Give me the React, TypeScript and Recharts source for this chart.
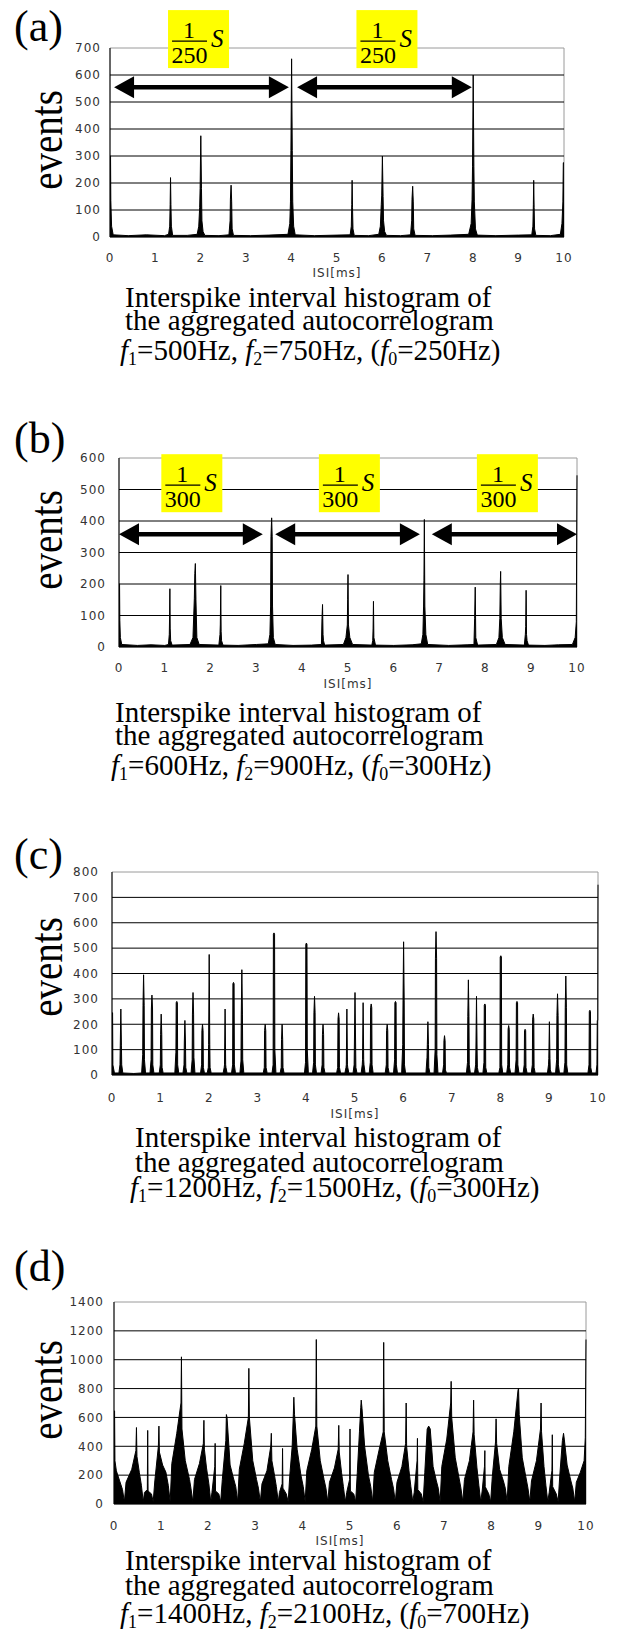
import React from 'react';
import { ComposedChart, Area, XAxis, YAxis, ReferenceLine, ReferenceArea, ReferenceDot } from 'recharts';

type Pt = [number, number];

// ISI histogram outlines, [ISI ms, events]
const isiA: Pt[] = [
  [0, 300], [0.012, 300], [0.018, 135], [0.035, 40], [0.07, 8],
  [0.4, 5], [0.8, 8], [1.2, 5], [1.29, 10], [1.315, 40], [1.325, 120], [1.333, 220], [1.342, 120], [1.352, 40], [1.38, 6],
  [1.7, 6], [1.92, 10], [1.955, 40], [1.975, 110], [1.985, 180], [2.0, 375], [2.015, 180], [2.025, 60], [2.05, 20], [2.09, 6],
  [2.4, 5], [2.62, 8], [2.645, 60], [2.652, 140], [2.667, 192], [2.68, 130], [2.69, 30], [2.72, 6],
  [3.1, 5], [3.5, 7], [3.92, 10], [3.96, 50], [3.975, 130], [3.985, 320], [4.0, 660], [4.015, 320], [4.025, 130], [4.045, 40], [4.08, 8],
  [4.5, 5], [5.0, 7], [5.29, 8], [5.315, 40], [5.325, 120], [5.333, 210], [5.342, 110], [5.352, 30], [5.38, 6],
  [5.7, 5], [5.92, 10], [5.955, 40], [5.975, 120], [5.985, 155], [6.0, 300], [6.015, 150], [6.025, 60], [6.05, 20], [6.09, 6],
  [6.4, 5], [6.62, 8], [6.645, 60], [6.652, 140], [6.667, 188], [6.68, 130], [6.69, 30], [6.72, 6],
  [7.1, 5], [7.5, 7], [7.9, 10], [7.955, 50], [7.975, 140], [7.985, 260], [8.0, 600], [8.015, 260], [8.025, 130], [8.05, 30], [8.09, 7],
  [8.5, 5], [9.0, 7], [9.29, 8], [9.315, 40], [9.325, 120], [9.333, 210], [9.342, 110], [9.352, 30], [9.38, 6],
  [9.7, 5], [9.92, 10], [9.955, 50], [9.975, 130], [9.985, 275], [10, 275],
];

const isiB: Pt[] = [
  [0, 200], [0.012, 200], [0.018, 85], [0.03, 30], [0.06, 8],
  [0.4, 5], [0.7, 7], [1.0, 5], [1.08, 8], [1.098, 40], [1.105, 100], [1.111, 185], [1.118, 60], [1.128, 20], [1.16, 6],
  [1.55, 8], [1.615, 30], [1.645, 155], [1.655, 233], [1.667, 265], [1.68, 150], [1.7, 30], [1.75, 8],
  [2.18, 6], [2.205, 40], [2.212, 70], [2.222, 195], [2.23, 50], [2.24, 20], [2.27, 6],
  [2.6, 5], [3.0, 8], [3.26, 10], [3.295, 40], [3.31, 130], [3.318, 350], [3.333, 410], [3.345, 350], [3.352, 130], [3.37, 30], [3.41, 8],
  [3.8, 5], [4.2, 6], [4.42, 8], [4.432, 90], [4.444, 135], [4.455, 40], [4.465, 20], [4.49, 6],
  [4.9, 8], [4.955, 30], [4.985, 70], [4.992, 150], [5.0, 230], [5.01, 70], [5.04, 30], [5.1, 8],
  [5.52, 6], [5.54, 20], [5.548, 60], [5.556, 145], [5.565, 30], [5.6, 6],
  [6.0, 5], [6.4, 7], [6.6, 10], [6.635, 40], [6.65, 130], [6.658, 210], [6.667, 405], [6.678, 130], [6.7, 40], [6.74, 8],
  [7.2, 5], [7.6, 7], [7.75, 8], [7.765, 90], [7.778, 190], [7.79, 30], [7.83, 6],
  [8.24, 8], [8.295, 30], [8.315, 90], [8.325, 200], [8.333, 240], [8.345, 90], [8.37, 30], [8.43, 8],
  [8.85, 6], [8.872, 40], [8.88, 65], [8.889, 180], [8.898, 40], [8.91, 20], [8.94, 6],
  [9.3, 5], [9.6, 7], [9.9, 8], [9.96, 30], [9.985, 80], [10, 545],
];

const isiC: Pt[] = [
  [0, 245], [0.012, 245], [0.018, 40], [0.05, 8],
  [0.142, 8], [0.164, 40], [0.17, 115], [0.182, 260], [0.194, 115], [0.2, 40], [0.222, 8],
  [0.45, 6], [0.61, 8], [0.632, 80], [0.638, 275], [0.65, 395], [0.662, 275], [0.668, 60], [0.69, 8],
  [0.782, 8], [0.804, 60], [0.81, 260], [0.822, 315], [0.834, 260], [0.84, 40], [0.862, 8],
  [0.972, 8], [0.994, 40], [1.0, 160], [1.012, 240], [1.024, 160], [1.03, 30], [1.052, 8],
  [1.293, 8], [1.315, 90], [1.321, 285], [1.333, 290], [1.345, 285], [1.351, 40], [1.373, 8],
  [1.46, 8], [1.482, 40], [1.488, 130], [1.5, 215], [1.512, 130], [1.518, 30], [1.54, 8],
  [1.627, 8], [1.649, 60], [1.655, 240], [1.667, 325], [1.679, 240], [1.685, 70], [1.707, 8],
  [1.822, 8], [1.844, 40], [1.85, 175], [1.862, 200], [1.874, 175], [1.88, 30], [1.902, 8],
  [1.96, 8], [1.982, 30], [1.988, 120], [2.0, 475], [2.012, 120], [2.018, 30], [2.04, 8],
  [2.287, 8], [2.309, 30], [2.315, 40], [2.327, 260], [2.339, 40], [2.345, 30], [2.367, 8],
  [2.46, 8], [2.482, 40], [2.488, 360], [2.5, 365], [2.512, 360], [2.518, 40], [2.54, 8],
  [2.632, 8], [2.654, 55], [2.66, 240], [2.672, 415], [2.684, 240], [2.69, 60], [2.712, 8],
  [3.112, 8], [3.134, 30], [3.14, 175], [3.152, 200], [3.164, 175], [3.17, 30], [3.192, 8],
  [3.293, 8], [3.315, 40], [3.321, 555], [3.333, 560], [3.345, 555], [3.351, 100], [3.373, 8],
  [3.46, 8], [3.482, 30], [3.488, 140], [3.5, 200], [3.512, 140], [3.518, 30], [3.54, 8],
  [3.96, 8], [3.982, 50], [3.988, 515], [4.0, 520], [4.012, 515], [4.018, 100], [4.04, 8],
  [4.127, 8], [4.149, 50], [4.155, 245], [4.167, 310], [4.179, 245], [4.185, 40], [4.207, 8],
  [4.302, 8], [4.324, 40], [4.33, 160], [4.342, 200], [4.354, 160], [4.36, 30], [4.382, 8],
  [4.622, 8], [4.644, 30], [4.65, 220], [4.662, 245], [4.674, 220], [4.68, 30], [4.702, 8],
  [4.793, 8], [4.815, 30], [4.821, 40], [4.833, 260], [4.845, 40], [4.851, 30], [4.873, 8],
  [4.96, 8], [4.982, 40], [4.988, 130], [5.0, 325], [5.012, 130], [5.018, 30], [5.04, 8],
  [5.127, 8], [5.149, 40], [5.155, 60], [5.167, 285], [5.179, 60], [5.185, 40], [5.207, 8],
  [5.293, 8], [5.315, 50], [5.321, 265], [5.333, 280], [5.345, 265], [5.351, 40], [5.373, 8],
  [5.622, 8], [5.644, 40], [5.65, 175], [5.662, 200], [5.674, 175], [5.68, 30], [5.702, 8],
  [5.793, 8], [5.815, 60], [5.821, 285], [5.833, 290], [5.845, 285], [5.851, 40], [5.873, 8],
  [5.96, 8], [5.982, 120], [5.988, 295], [6.0, 525], [6.012, 295], [6.018, 40], [6.04, 8],
  [6.46, 8], [6.482, 70], [6.488, 120], [6.5, 210], [6.512, 120], [6.518, 30], [6.54, 8],
  [6.627, 8], [6.649, 100], [6.655, 460], [6.667, 565], [6.679, 460], [6.685, 80], [6.707, 8],
  [6.802, 8], [6.824, 40], [6.83, 135], [6.842, 155], [6.854, 135], [6.86, 20], [6.882, 8],
  [7.293, 8], [7.315, 50], [7.321, 230], [7.333, 375], [7.345, 230], [7.351, 40], [7.373, 8],
  [7.46, 8], [7.482, 40], [7.488, 100], [7.5, 310], [7.512, 100], [7.518, 30], [7.54, 8],
  [7.632, 8], [7.654, 50], [7.66, 275], [7.672, 280], [7.684, 275], [7.69, 30], [7.712, 8],
  [7.96, 8], [7.982, 30], [7.988, 465], [8.0, 470], [8.012, 465], [8.018, 40], [8.04, 8],
  [8.122, 8], [8.144, 40], [8.15, 180], [8.162, 195], [8.174, 180], [8.18, 30], [8.202, 8],
  [8.293, 8], [8.315, 60], [8.321, 285], [8.333, 290], [8.345, 285], [8.351, 40], [8.373, 8],
  [8.46, 8], [8.482, 40], [8.488, 175], [8.5, 180], [8.512, 175], [8.518, 30], [8.54, 8],
  [8.627, 8], [8.649, 40], [8.655, 220], [8.667, 240], [8.679, 220], [8.685, 30], [8.707, 8],
  [8.96, 8], [8.982, 40], [8.988, 65], [9.0, 210], [9.012, 65], [9.018, 20], [9.04, 8],
  [9.127, 8], [9.149, 60], [9.155, 235], [9.167, 320], [9.179, 235], [9.185, 40], [9.207, 8],
  [9.298, 8], [9.32, 50], [9.326, 265], [9.338, 390], [9.35, 265], [9.356, 40], [9.378, 8],
  [9.793, 8], [9.815, 40], [9.821, 250], [9.833, 255], [9.845, 250], [9.851, 30], [9.873, 8],
  [9.96, 8], [9.978, 40], [9.985, 215], [9.995, 215], [10, 750],
];

const isiD: Pt[] = [
  [0, 645], [0.012, 645], [0.02, 300], [0.05, 230], [0.12, 160], [0.18, 100], [0.22, 15],
  [0.255, 150], [0.376, 240], [0.464, 370], [0.476, 530], [0.486, 330], [0.536, 220], [0.58, 130], [0.62, 15],
  [0.645, 80], [0.706, 100], [0.714, 510], [0.722, 90], [0.794, 70], [0.83, 15],
  [0.865, 160], [0.94, 400], [0.952, 540], [0.962, 360], [1.03, 270], [1.1, 220], [1.15, 130], [1.19, 15],
  [1.225, 280], [1.33, 490], [1.419, 700], [1.429, 1020], [1.44, 520], [1.51, 300], [1.6, 170], [1.63, 110], [1.67, 15],
  [1.705, 170], [1.81, 280], [1.893, 420], [1.905, 580], [1.915, 380], [1.96, 250], [2.01, 140], [2.05, 15],
  [2.075, 80], [2.135, 260], [2.143, 420], [2.151, 90], [2.22, 70], [2.26, 15],
  [2.295, 170], [2.369, 440], [2.381, 620], [2.395, 600], [2.46, 270], [2.53, 180], [2.58, 120], [2.62, 15],
  [2.655, 240], [2.76, 420], [2.847, 600], [2.857, 940], [2.868, 600], [2.94, 300], [3.02, 170], [3.06, 110], [3.1, 15],
  [3.135, 140], [3.24, 230], [3.321, 400], [3.333, 490], [3.345, 300], [3.4, 200], [3.44, 120], [3.48, 15],
  [3.505, 80], [3.563, 140], [3.571, 385], [3.579, 110], [3.65, 70], [3.69, 15],
  [3.725, 200], [3.775, 400], [3.8, 630], [3.81, 740], [3.825, 620], [3.88, 380], [3.96, 200], [4.01, 120], [4.05, 15],
  [4.085, 230], [4.19, 380], [4.276, 540], [4.286, 1140], [4.297, 540], [4.37, 300], [4.45, 170], [4.49, 110], [4.53, 15],
  [4.565, 150], [4.67, 250], [4.75, 380], [4.762, 545], [4.772, 360], [4.82, 220], [4.86, 120], [4.9, 15],
  [4.93, 80], [4.992, 170], [5.0, 520], [5.008, 90], [5.08, 70], [5.12, 15],
  [5.155, 220], [5.2, 500], [5.228, 670], [5.238, 720], [5.255, 660], [5.31, 400], [5.39, 200], [5.44, 120], [5.48, 15],
  [5.515, 220], [5.62, 380], [5.704, 500], [5.714, 1120], [5.725, 500], [5.8, 300], [5.88, 170], [5.92, 110], [5.96, 15],
  [5.995, 150], [6.1, 260], [6.178, 420], [6.19, 700], [6.2, 400], [6.25, 230], [6.29, 120], [6.33, 15],
  [6.36, 80], [6.421, 300], [6.429, 455], [6.437, 100], [6.51, 70], [6.55, 15],
  [6.585, 220], [6.635, 520], [6.667, 540], [6.7, 520], [6.76, 260], [6.83, 160], [6.87, 110], [6.91, 15],
  [6.945, 260], [7.05, 450], [7.133, 700], [7.143, 850], [7.155, 600], [7.23, 320], [7.31, 180], [7.35, 110], [7.39, 15],
  [7.425, 170], [7.53, 300], [7.607, 500], [7.619, 720], [7.63, 480], [7.69, 250], [7.73, 130], [7.77, 15],
  [7.8, 90], [7.849, 260], [7.857, 370], [7.865, 120], [7.94, 70], [7.98, 15],
  [8.015, 190], [8.083, 430], [8.095, 590], [8.107, 420], [8.17, 240], [8.25, 160], [8.29, 110], [8.33, 15],
  [8.365, 260], [8.47, 500], [8.56, 790], [8.571, 800], [8.585, 620], [8.65, 320], [8.73, 180], [8.77, 110], [8.81, 15],
  [8.845, 160], [8.95, 300], [9.036, 520], [9.048, 700], [9.058, 500], [9.11, 260], [9.15, 130], [9.19, 15],
  [9.22, 80], [9.278, 230], [9.286, 480], [9.294, 120], [9.37, 70], [9.41, 15],
  [9.445, 200], [9.5, 440], [9.524, 490], [9.54, 450], [9.6, 270], [9.68, 160], [9.72, 110], [9.76, 15],
  [9.795, 150], [9.88, 220], [9.96, 300], [9.985, 460], [10, 1140],
];

const xTicks = [0, 1, 2, 3, 4, 5, 6, 7, 8, 9, 10];
const yTicksA = [0, 100, 200, 300, 400, 500, 600, 700];
const yTicksB = [0, 100, 200, 300, 400, 500, 600];
const yTicksC = [0, 100, 200, 300, 400, 500, 600, 700, 800];
const yTicksD = [0, 200, 400, 600, 800, 1000, 1200, 1400];

// period arrows [from, to] in ms and box centres in ms
const arrowsA: Pt[] = [[0.09, 3.94], [4.12, 7.97]];
const arrowsB: Pt[] = [[0, 3.14], [3.41, 6.57], [6.83, 10]];
const boxesA = [1.95, 6.1];
const boxesB = [1.59, 5.03, 8.48];

const panelLabels = ['(a)', '(b)', '(c)', '(d)'];
const freqs = [
  [500, 750, 250],
  [600, 900, 300],
  [1200, 1500, 300],
  [1400, 2100, 700],
];

const SERIF = '"Liberation Serif", "Times New Roman", serif';
const SANS = '"DejaVu Sans", sans-serif';
const tickStyle = { fontSize: 12, fill: '#333', fontFamily: SANS, letterSpacing: 1 };

type Geo = {
  top: number; h: number; l: number; r: number; t: number; b: number;
  yTm: number; xTm: number;
};

const geoA: Geo = { top: 0, h: 269, l: 110, r: 564, t: 48, b: 237, yTm: 9, xTm: 16 };
const geoB: Geo = { top: 440, h: 239, l: 119, r: 577, t: 458, b: 647, yTm: 13, xTm: 16 };
const geoC: Geo = { top: 860, h: 247, l: 112, r: 598, t: 872, b: 1075, yTm: 13, xTm: 18 };
const geoD: Geo = { top: 1290, h: 246, l: 114, r: 586, t: 1302, b: 1504, yTm: 10, xTm: 17 };

const ArrowShape = (p: any) => {
  const { x1, y1, x2 } = p;
  const hl = 20, hw = 11;
  return (
    <g>
      <line x1={x1 + hl - 2} y1={y1} x2={x2 - hl + 2} y2={y1} stroke="#000" strokeWidth={4.5} />
      <polygon points={`${x1},${y1} ${x1 + hl},${y1 - hw} ${x1 + hl},${y1 + hw}`} fill="#000" />
      <polygon points={`${x2},${y1} ${x2 - hl},${y1 - hw} ${x2 - hl},${y1 + hw}`} fill="#000" />
    </g>
  );
};

const FracBox = ({ cx, cy, den }: { cx: number; cy: number; den: string }) => {
  const w = 61, h = 58;
  const l = cx - w / 2, t = cy - h / 2;
  return (
    <g fontFamily={SERIF} fill="#000">
      <rect x={l} y={t} width={w} height={h} fill="#ffff00" />
      <text x={l + 21} y={t + 28} fontSize={24} textAnchor="middle">1</text>
      <line x1={l + 4} x2={l + 39} y1={t + 31} y2={t + 31} stroke="#000" strokeWidth={1.3} />
      <text x={l + 21.5} y={t + 52.5} fontSize={24} textAnchor="middle">{den}</text>
      <text x={l + 43} y={t + 37} fontSize={25} fontStyle="italic">S</text>
    </g>
  );
};

type HistProps = {
  pts: Pt[]; geo: Geo; yMax: number; yTicks: number[];
  arrows?: Pt[]; arrowY?: number; boxes?: number[]; boxY?: number; den?: string;
};

const Hist = ({ pts, geo, yMax, yTicks, arrows = [], arrowY = 0, boxes = [], boxY = 0, den = '' }: HistProps) => {
  const rows = pts.map(([x, y]) => ({ x, y }));
  const grid = yTicks.slice(1, -1);
  return (
    <div style={{ position: 'absolute', left: 0, top: geo.top, width: 618, height: geo.h }}>
      <ComposedChart
        width={618}
        height={geo.h}
        data={rows}
        margin={{ top: geo.t - geo.top, right: 618 - geo.r, bottom: geo.h - (geo.b - geo.top) - 30, left: geo.l - 40 }}
      >
        <ReferenceArea x1={0} x2={10} y1={0} y2={yMax} fill="none" stroke="#9a9a9a" ifOverflow="visible" />
        {grid.map((v) => (
          <ReferenceLine key={v} y={v} stroke="#000" strokeWidth={1} />
        ))}
        <XAxis
          dataKey="x" type="number" domain={[0, 10]} ticks={xTicks} interval={0} height={30}
          tickLine={false} tickSize={0} tickMargin={geo.xTm} axisLine={{ stroke: '#000' }} tick={tickStyle}
        />
        <YAxis
          type="number" domain={[0, yMax]} ticks={yTicks} interval={0} width={40}
          tickLine={false} tickSize={0} tickMargin={geo.yTm} axisLine={{ stroke: '#000' }} tick={tickStyle}
        />
        <Area
          type="linear" dataKey="y" stroke="#000" strokeWidth={1} fill="#000" fillOpacity={1}
          isAnimationActive={false} dot={false} activeDot={false}
        />
        {arrows.map(([a, b], i) => (
          <ReferenceLine
            key={`ar${i}`}
            segment={[{ x: a, y: arrowY }, { x: b, y: arrowY }]}
            ifOverflow="visible"
            shape={ArrowShape}
          />
        ))}
        {boxes.map((bx, i) => (
          <ReferenceDot
            key={`bx${i}`}
            x={bx}
            y={boxY}
            ifOverflow="visible"
            shape={(p: any) => <FracBox cx={p.cx} cy={p.cy} den={den} />}
          />
        ))}
      </ComposedChart>
    </div>
  );
};

const Sub = ({ children }: { children: React.ReactNode }) => (
  <span style={{ fontSize: '0.62em', verticalAlign: '-0.28em', lineHeight: 0 }}>{children}</span>
);

const abs = (left: number, top: number, extra: React.CSSProperties = {}): React.CSSProperties => ({
  position: 'absolute', left, top, whiteSpace: 'nowrap', ...extra,
});

const CAP = 29;
const CAP_LH = 22;
// baseline offset inside a line box of CAP_LH for Liberation Serif
const capTop = (baseline: number) => baseline - ((CAP_LH - 1.107 * CAP) / 2 + 0.891 * CAP);

type Deco = {
  labelTop: number; eventsY: number; isiX: number; isiY: number;
  capBase: number[]; capLeft: number[];
};

const decos: Deco[] = [
  { labelTop: 5, eventsY: 140, isiX: 337, isiY: 273, capBase: [307, 330, 360], capLeft: [125, 125, 120] },
  { labelTop: 417, eventsY: 540, isiX: 348, isiY: 684, capBase: [722, 745, 775], capLeft: [115, 115, 111] },
  { labelTop: 833, eventsY: 967, isiX: 355, isiY: 1114, capBase: [1147, 1172, 1197], capLeft: [135, 135, 130] },
  { labelTop: 1245, eventsY: 1390, isiX: 340, isiY: 1541, capBase: [1570, 1595, 1623], capLeft: [125, 125, 120] },
];

const Decorations = ({ i }: { i: number }) => {
  const d = decos[i];
  const [f1, f2, f0] = freqs[i];
  const capStyle = { fontFamily: SERIF, fontSize: CAP, lineHeight: `${CAP_LH}px`, color: '#000' };
  return (
    <>
      <div style={abs(14, d.labelTop, { fontFamily: SERIF, fontSize: 44, lineHeight: '44px' })}>{panelLabels[i]}</div>
      <div
        style={abs(46, d.eventsY, {
          fontFamily: SERIF, fontSize: 39, lineHeight: '39px',
          transform: 'translate(-50%, -50%) rotate(-90deg) scale(1, 1.2)',
        })}
      >
        events
      </div>
      <div
        style={abs(d.isiX, d.isiY, {
          fontFamily: SANS, fontSize: 12, letterSpacing: 1, color: '#333', lineHeight: '12px',
          transform: 'translate(-50%, -50%)',
        })}
      >
        ISI[ms]
      </div>
      <div style={abs(d.capLeft[0], capTop(d.capBase[0]), capStyle)}>Interspike interval histogram of</div>
      <div style={abs(d.capLeft[1], capTop(d.capBase[1]), capStyle)}>the aggregated autocorrelogram</div>
      <div style={abs(d.capLeft[2], capTop(d.capBase[2]), capStyle)}>
        <i>f</i><Sub>1</Sub>={f1}Hz, <i>f</i><Sub>2</Sub>={f2}Hz, (<i>f</i><Sub>0</Sub>={f0}Hz)
      </div>
    </>
  );
};

export default function App() {
  return (
    <div style={{ position: 'absolute', left: 0, top: 0, width: 618, height: 1633, background: '#fff', overflow: 'hidden' }}>
      <Hist pts={isiA} geo={geoA} yMax={700} yTicks={yTicksA} arrows={arrowsA} arrowY={555} boxes={boxesA} boxY={733} den="250" />
      <Hist pts={isiB} geo={geoB} yMax={600} yTicks={yTicksB} arrows={arrowsB} arrowY={358} boxes={boxesB} boxY={520} den="300" />
      <Hist pts={isiC} geo={geoC} yMax={800} yTicks={yTicksC} />
      <Hist pts={isiD} geo={geoD} yMax={1400} yTicks={yTicksD} />
      {[0, 1, 2, 3].map((i) => (
        <Decorations key={i} i={i} />
      ))}
    </div>
  );
}
